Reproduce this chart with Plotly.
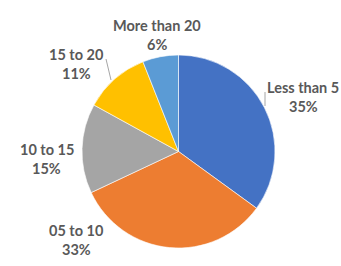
import plotly.graph_objects as go

categories = ["Less than 5", "05 to 10", "10 to 15", "15 to 20", "More than 20"]
values = [35, 33, 15, 11, 6]
colors = ["#4472C4", "#ED7D31", "#A5A5A5", "#FFC000", "#5B9BD5"]

W, H = 341, 266
cx, cy, r = 178.5, 151.5, 96.5

fig = go.Figure(go.Pie(
    labels=categories, values=values, sort=False, direction="clockwise", rotation=0,
    marker=dict(colors=colors, line=dict(color="white", width=0.6)),
    textinfo="none", hoverinfo="label+percent", showlegend=False,
    domain=dict(x=[(cx - r) / W, (cx + r) / W], y=[(H - cy - r) / H, (H - cy + r) / H]),
))

# label positions in pixels (centre of text block)
label_pos = {"Less than 5": (303, 97), "05 to 10": (76, 240), "10 to 15": (47, 159),
             "15 to 20": (76, 64), "More than 20": (157, 35)}
total = sum(values)
font = dict(family="Lato", size=14.5, color="#595959")
for c, v in zip(categories, values):
    x, y = label_pos[c]
    for txt, dy in [(c, -9.5), (f"{round(100 * v / total)}%", 9.5)]:
        fig.add_annotation(x=x / W, y=1 - (y + dy) / H, xref="paper", yref="paper",
                           showarrow=False, text=f"<b>{txt}</b>", font=font,
                           xanchor="center", yanchor="middle", align="center")

for (x0, y0, x1, y1) in [(106, 59, 111, 80), (265, 92, 265, 106)]:
    fig.add_shape(type="line", xref="paper", yref="paper",
                  x0=x0 / W, y0=1 - y0 / H, x1=x1 / W, y1=1 - y1 / H,
                  line=dict(color="#A6A6A6", width=1))

fig.update_layout(width=W, height=H, margin=dict(l=0, r=0, t=0, b=0),
                  paper_bgcolor="white", plot_bgcolor="white")
fig.write_html("out.html")
